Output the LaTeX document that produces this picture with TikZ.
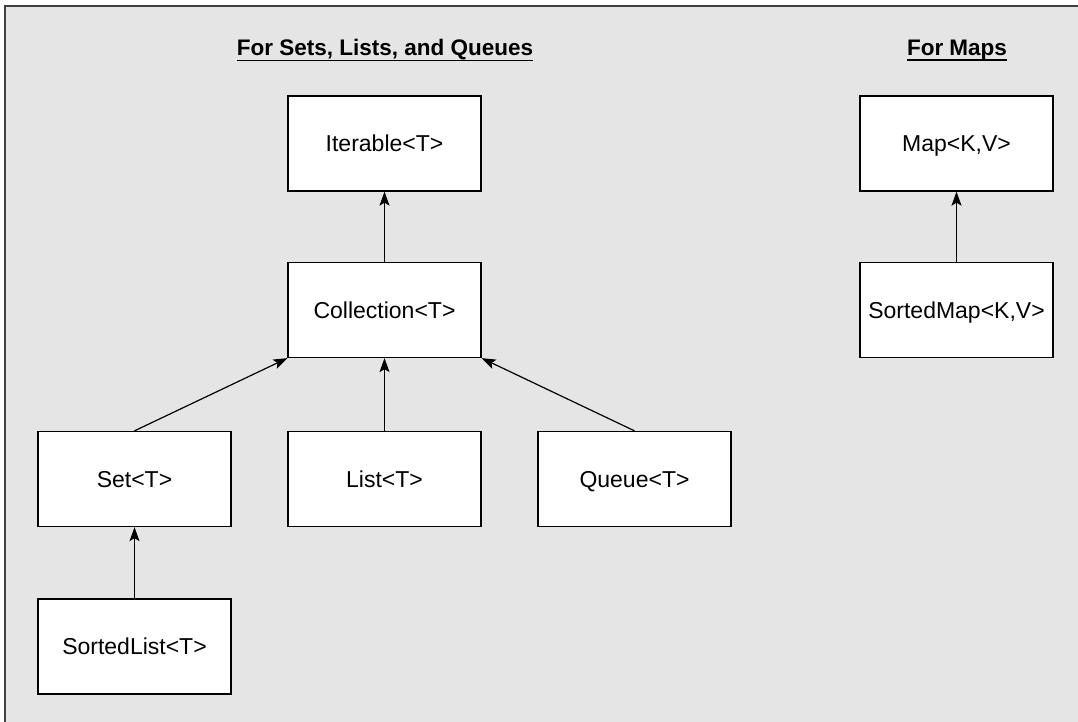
\documentclass[tikz,border=0pt]{standalone}
\usepackage{fontspec}
\setmainfont{Liberation Sans}
\usetikzlibrary{arrows.meta}

\begin{document}
\begin{tikzpicture}[x=1pt,y=-1pt, every node/.style={font=\fontsize{23}{27}\selectfont},
    cls/.style={draw, rectangle, fill=white, line width=1.3pt, minimum width=193pt, minimum height=95pt, text height=17pt, text depth=0.5pt},
    head/.style={inner sep=0pt, font=\fontsize{22.5}{27}\selectfont\bfseries},
    inh/.style={-{Stealth[length=14pt,width=10pt,inset=3pt]}, line width=1.2pt}]
    \useasboundingbox (0,0) rectangle (1078,722);
    \fill[gray!20] (5,6) rectangle (1078,722);
    \draw[line width=1.8pt, black!75] (5,722) -- (5,6) -- (1078,6);
    \node[head] (hcol) at (385,50) {For Sets, Lists, and Queues};
    \node[head] (hmap) at (957,50) {For Maps};
    \draw[line width=1.6pt] ([yshift=-4.5pt]hcol.base west) -- ([yshift=-4.5pt]hcol.base east);
    \draw[line width=1.6pt] ([yshift=-4.5pt]hmap.base west) -- ([yshift=-4.5pt]hmap.base east);
    \node[cls] (iter) at (384.5,143.5) {Iterable<T>};
    \node[cls] (coll) at (384.5,310) {Collection<T>};
    \node[cls] (set) at (134.5,479) {Set<T>};
    \node[cls] (list) at (384.5,479) {List<T>};
    \node[cls] (que) at (634.5,479) {Queue<T>};
    \node[cls] (slist) at (134.5,646.5) {SortedList<T>};
    \node[cls] (map) at (956.5,143.5) {Map<K,V>};
    \node[cls] (smap) at (956.5,310) {SortedMap<K,V>};
    \draw[inh] (coll) -- (iter);
    \draw[inh] (set.north) -- (coll.south west);
    \draw[inh] (list) -- (coll);
    \draw[inh] (que.north) -- (coll.south east);
    \draw[inh] (slist) -- (set);
    \draw[inh] (smap) -- (map);
\end{tikzpicture}
\end{document}
